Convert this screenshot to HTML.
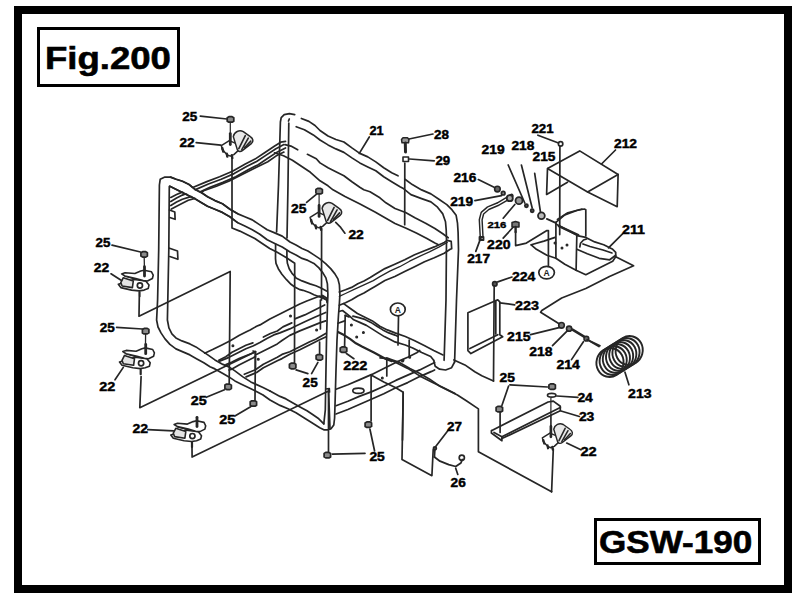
<!DOCTYPE html>
<html><head><meta charset="utf-8">
<style>
html,body{margin:0;padding:0;background:#fff;}
body{width:809px;height:602px;position:relative;overflow:hidden;font-family:"Liberation Sans",sans-serif;}
.frame{position:absolute;left:14px;top:6px;width:762px;height:571px;border:8px solid #000;}
.box{position:absolute;border:3px solid #000;background:#fff;}
.big{position:absolute;font-weight:bold;font-size:31.5px;-webkit-text-stroke:0.6px #000;line-height:1;color:#000;transform-origin:0 0;white-space:nowrap;}
svg{position:absolute;left:0;top:0;}
.dr polyline,.dr polygon,.dr circle,.dr ellipse,.dr path{stroke:#262626;stroke-linecap:round;stroke-linejoin:round;}
.dr polyline{fill:none;}
.lb text{font-family:"Liberation Sans",sans-serif;font-weight:bold;font-size:12.3px;fill:#000;stroke:#000;stroke-width:0.45px;}
.lb text.s{font-size:9.4px;stroke-width:0.35px;}
</style></head><body>
<div class="frame"></div>
<div class="box" style="left:37px;top:27px;width:137px;height:54px;"></div>
<div class="big" style="left:45px;top:43px;transform:scaleX(1.16);">Fig.200</div>
<div class="box" style="left:594px;top:518px;width:161px;height:41px;"></div>
<div class="big" style="left:599px;top:527px;transform:scaleX(1.113);">GSW-190</div>
<svg width="809" height="602" viewBox="0 0 809 602">
<g class="dr" stroke-width="1.7">
<polyline points="263,395 255,390.8 248.8,387.8 240.9,383.9 234.9,380.9 228.9,376.9 222.9,373.4 214.9,368.9 210,366.8 203.8,362.8 196.9,358.9 189.9,354.9 182.9,351.9 175.9,348.9 169.9,344.4 165,338.9 161,332.9 158,327 156.6,320 157.6,300 158.7,250 159.4,185 160.2,179.3 164.9,177.1 170.5,177.1 176.1,179.3 182.4,181.2 189,184.5 195,189.4 201.2,192.5 207.5,196.8 214.9,200.6 222.4,203.7 229.9,209.3 237.3,213.6 244.8,216.8 252.3,219.9 259.8,224.9 267.2,229.8 274.7,232.9 282.2,236.1 290,242 296,245 302,248.5 307.9,251 313.9,254.9 319.9,258.9 325.9,263.9 330.9,268.9 334.9,273.9 337.9,278.9 339.4,284.9 339.9,294.8 339.3,304.7 338.5,315 337,340 336,370 335,405 334.6,418 333.8,425 331,428.8 327.8,429.8 323.8,429.8 319.8,427.8 311.9,422.8 303.9,417.8 296,412.8 288,408.8 280,405.4 270,400 263,395"/>
<polyline points="270,391 263,387.5 255,383.9 250.8,381.9 242.9,376.9 234.9,370.9 228.9,366.9 222.9,364.4 214.9,359.9 207.8,354.9 201.8,350.9 195.9,346.9 189.9,343.9 181.9,340.9 175.9,337.9 171.9,333.9 168.9,327.9 167.4,320 167.8,300 168.8,250 169.3,186.5 169.9,186.2 182.4,192.4 195,198.7 201.2,202.4 207.5,206.2 214.9,209.3 222.4,212.4 229.9,216.8 237.3,222.4 244.8,226.1 252.3,229.8 259.8,234.2 267.2,239.8 274.7,243.5 282.2,247 290,252 296,254.9 302,258.4 307.9,260.4 313.9,263.4 318.9,267.9 322.9,272.9 325.9,277.9 327.4,283.9 327.9,294.8 327.5,304.7 326.5,340 325.8,380 325.3,410 323.8,423.8"/>
<polyline points="270,391 280,396.4 286,398.9 293,402.9 300,406.9 307,410.8 313,414.8 318.8,418.8 321.8,421.8 323.8,423.8"/>
<polyline points="294.7,114.7 289.4,113.7 284.2,114.7 281.2,117.7 280.4,122 278.5,185 276.6,232"/>
<polyline points="275.6,244 275.5,258.7 276,263.3 278.3,268.7 281.9,274.2 286.5,279.7 291,284.3 294.7,287 300,289.7 303,290.3 309.9,292.8 313.9,294.8 320,297 326,299.5"/>
<polyline points="288.5,121 289.3,119"/>
<polyline points="288.8,123 288,185 287,238"/>
<polyline points="286.9,250.5 286.9,258.7 287.4,263.3 289.2,268.7 292,273.3 294.7,276.1 296,277.9 302,280.9 309.9,283.9 315.9,285.8 321,288 326.5,291"/>
<polyline points="301.4,118.5 308.9,121.4 315,125.5 320,130.5 328,136 335.9,139.5 343.9,142 351.9,147.9 359.8,153.4 367.8,156.9 375.8,161.9 383.7,167.8 391.7,172.8 398,175.8"/>
<polyline points="296.2,126.7 304.4,129.7 313.3,134.9 320,140 328,144.9 335.9,148.9 343.9,152.4 351.9,157.9 359.8,162.9 367.8,166.9 375.8,170.8 383.7,176.8 391.7,181.8 400,186.8 403.8,188.8 410.9,194.6 421.6,198.6 430.9,201.9 437.5,207.2 442.8,213.9 445.5,221.8 446.2,229.8 446.5,239.1 446,300 444.1,360.3"/>
<polyline points="405,179.3 412.3,184.6 421.6,189.9 430.9,193.9 438.9,199.2 446.8,204.6 452.1,209.9 456.1,215.2 457.5,223.2 458.1,232.5 458.5,249.7 456.5,300 454.6,362"/>
<polyline points="285,144.6 290.9,146.1 297.7,149.8"/>
<polyline points="307.4,154.3 316.3,158.8 320,162.9 328,167.8 335.9,171.8 343.9,175.8 351.9,181.8 359.8,187.3 363.8,189.8 370,191.8 379.9,197.8 385.9,202.8 395,208.5 405.6,212.5 414.9,217.8 425.6,223.2 434.9,228.5 442.8,233.8 448.2,237.8"/>
<polyline points="274.5,152.8 283.5,155.8 292.4,160.3 301.4,166.3 310.4,172.3 320,180.8 328,185.8 333,189.8 345,196.5 360,204 375,212 395,223.5 405.6,228 416.3,233 426.9,238.5 434.9,243 438,244.5"/>
<polyline points="433.7,360.3 435.2,366.2 439.6,369.2 445.6,370 451.6,367.7 454.6,362"/>
<polyline points="343.6,303.6 350,308.2 357.4,313.5 364.9,317.2 372.4,320.9 379.8,326.2 387.3,329.9 395,332.9 405.3,336.5 414.2,340.5 424.7,345.8 433.7,350.5 443,354.9"/>
<polyline points="453.9,359.9 464.9,364.9 474.8,371.8 481.8,375.8 493.5,381"/>
<polyline points="352.9,316.1 358.9,317.6 364.9,319.4 370.9,322.4 376.9,326.2 382.8,329.9 388.8,332.9 395,335.1 398,336.5"/>
<polyline points="339,311.5 342.5,310.5 350,316.4 353.7,319.8 359.7,322.4 366.4,325.4 372.4,329.1 378.3,332.9 384.3,336.6 390.3,339.6 395,341.9 405.3,345 412.7,348 421.7,352.5 430.7,356.5 433.7,360.3"/>
<polyline points="338,323.2 344.7,320.9"/>
<polyline points="339.3,292 345.5,289.8 351.6,287.4 357.8,283.7 364,280.9 370.2,277.5 375,274.6 384.9,268.6 394.8,264.2 404.7,259.7 414.6,254.8 424.5,250.8 434.3,246.9 444.2,242.4 447.2,240.4 451.2,241.4 451.7,248.8 450.2,249.3 444.2,253.3 434.3,257.7 424.5,261.7 414.6,266.7 404.7,271.6 394.8,276.5 384.9,280.5 375,286.4 370.2,289.2 364,292.9 357.8,296 351.6,299.7 345.5,302.8 339.3,305.3"/>
<polyline points="339.3,296.3 345.5,293.5 354.7,289.2 364,284.9 373.3,280.6 379.9,276.6 389.8,271.1 399.7,266.7 409.6,261.2 419.5,256.3 429.4,251.8 439.3,246.9 447.2,242.4" stroke-width="1.3"/>
<polyline points="204.7,353.2 212.6,349.6 221.4,345.2 230.2,340.8 239,335.6 245.9,332.1 250.1,330 256.6,326.3 260,324.9 269.9,318.9 279.9,313.9 289.8,309 299.8,304 306.8,301 316.6,297.2 319.6,296.1 323,297 325.5,299.5"/>
<polyline points="218.8,360.2 225.8,356.7 232,352.3 239,348.8 245.9,345.3 252.9,342.9"/>
<polyline points="263.4,337 270.4,333.5 277.3,331 282.9,326.9 291.8,322.9"/>
<polyline points="294.8,318.9 304.8,314.9 314.7,310 324.7,305"/>
<polyline points="219.6,361.1 228.5,357.6 232,355.8 239,352.3 245.9,348.8 252.9,346 259.9,342.6 266.9,338.4 273.8,334.9 279.9,332.9 289.8,328.9 294.8,326.4 304.8,321.8 314.7,317.2 325.7,312.5"/>
<polyline points="226,364.5 232,362.1 239,358.6 245.9,355.8 252.9,353 255.4,351.6"/>
<polyline points="256.4,354.4 263.4,350.9 270.4,347.4 277.3,343.9 282,340.5 289.8,335.4 299.8,330.9 309.8,326.9 319.7,322.9 325.7,320.9"/>
<polyline points="229,370 232,369.1 239,364.9 245.9,361.4 252.9,357.9 255.4,356.5"/>
<polyline points="244.3,374.3 255.4,369.8 263.4,364.2 270.4,360.7 277.3,357.2 282,354.4 289.8,351.8 299.8,346.8 309.8,341.8 315.7,339.3 325.7,333.4"/>
<polyline points="246.1,376.9 256.6,372.5 263.4,367.7 270.4,364.2 277.3,360.7 282,358.6 289.8,354.3 299.8,349.8 309.8,344.8 319.7,339.8 325.7,336.9"/>
<polyline points="255.4,351.7 255.4,369.7"/>
<polyline points="253,351 255.4,351.7"/>
<polyline points="336,389.3 347.9,384.8 359.9,379.6 371.9,374.4 383.8,368.4 395.8,362.4 407.7,357.2 416.7,352.7 419.7,350.5"/>
<polyline points="336,405.8 347.9,401.3 359.9,396.1 371.9,391.6 383.8,386.3 395.8,380.4 407.7,375.1 419.7,369.9 431.6,363.9 434.6,362.4"/>
<polyline points="336,414 347.9,409.5 359.9,404.3 371.9,399 383.8,393.8 395.8,387.8 407.7,382.6 419.7,376.6 431.6,371.4 434.6,369.9"/>
<polyline points="338,332.1 344,335.1 350,338.9 355.9,343.3 361.9,346.5 373.9,352.5 385.8,359 391.8,361.2" stroke-width="2.2"/>
<polyline points="386.8,375.9 386.8,357.9 395.8,362.4 407.7,368.4 419.7,375.9 431.6,381.9 443.6,387.8 455,393.5"/>
<polyline points="371.1,421 371.1,375.1 383.8,381.9 395.8,387.8 403.2,392.3 402.5,440"/>
<polyline points="409.2,340 409.2,356.4"/>
<polyline points="380,357.9 389,358.7 399.4,362.4 409.9,368.4 418.9,372.9 429.3,378.9 439.8,386.3 448.8,390.8 457.4,395 466.7,401 478.4,408.9 478.4,451.7 551.6,491.8"/>
<polyline points="467.9,312.8 497.8,299.8 499.8,301.8 499.8,334.7 502.7,336.7 470.9,353.6 467.9,350.6 467.9,312.8"/>
<polyline points="495.8,300.5 495.8,334"/>
<polyline points="497.8,334.7 469.9,348.6"/>
<circle cx="494.8" cy="283.9" r="2.2" fill="#555"/>
<polyline points="494.2,286 493.5,381"/>
<polyline points="497.8,281.9 512,277"/>
<polyline points="499.8,302.8 514.7,304.8"/>
<ellipse cx="546.6" cy="272.6" rx="7.8" ry="6.3" fill="#fff"/>
<ellipse cx="397.8" cy="309.4" rx="7.4" ry="6.4" fill="#fff"/>
<polyline points="398.5,316.4 398,345"/>
<polyline points="615.7,256.8 633.6,265.8 609.5,276.5 585.8,288.5 561.7,298 541.8,310.5 540.6,312.2 561.5,325.3"/>
<circle cx="561.5" cy="325.3" r="2.8" fill="#777" stroke-width="1.6"/>
<circle cx="569.1" cy="328.7" r="2.6" fill="#777" stroke-width="1.6"/>
<polyline points="572.5,329.7 587.4,338.7" stroke-width="2.6"/>
<circle cx="586.4" cy="338.7" r="2.4" fill="#666" stroke-width="1.5"/>
<polyline points="587.4,339.7 600,345.7"/>
<polyline points="530.6,334.7 559,327.7"/>
<polyline points="552.5,345.7 567.5,330.7"/>
<polyline points="571.5,359.6 583.4,341.7"/>
<polyline points="547.5,168.4 579.7,150.9 618.1,174.5 617.2,206.7 587.6,191.9 547.5,168.4 546.6,194.5 567.5,182.3"/>
<polyline points="587.6,191.9 618.1,174.5"/>
<circle cx="560.6" cy="143.9" r="2.2" fill="none"/>
<polyline points="559.9,146.2 559.7,234.6"/>
<polyline points="537.9,135.2 558.5,143"/>
<polyline points="615.5,150 601.5,164"/>
<polyline points="555.9,222.4 555.9,258.3 564.8,264.3 576.1,270.3"/>
<polyline points="576.8,235.9 576.1,270.3"/>
<polyline points="555.9,223.9 577.5,235.5"/>
<polyline points="558.9,226.2 578.3,235.1" stroke-width="2.4"/>
<polyline points="555.9,222.4 564.8,214.9 576.8,210.5 584.3,209 585.8,209.7 585.8,235.9"/>
<polyline points="557.4,219.4 567.8,212.7 582,209"/>
<polyline points="531.2,244.8 536.4,249.3 546.9,255.3 555.9,258.3"/>
<polyline points="531.2,244.8 543.9,241.1 555.1,237.4"/>
<polyline points="578.3,235.9 585.8,237.4 594.7,241.9 603.7,244.8 612.7,249.3 615.7,252.3 615.7,256.8 612.7,261.3 603.7,265.8 594.7,270.3 585.8,274.7 576.1,270.3"/>
<polyline points="576.8,249.3 587.3,253.8 599.2,258.3 609.7,259.8 615.7,255.3"/>
<polyline points="579.8,247 580.5,243.3 583.5,240 586.5,239"/>
<polyline points="583,244 590,246.5 603,250 612,253"/>
<polyline points="622.5,233.8 608.5,247.8"/>
<polyline points="515.6,231.4 515.6,245.6 526.4,243.1 546.9,230.6 548.4,230.6 548.4,265.8"/>
<circle cx="497.4" cy="189.1" r="2.8" fill="#666" stroke-width="1.6"/>
<circle cx="503.2" cy="193.2" r="1.8" fill="#888"/>
<polyline points="478.3,179.6 494.6,187.4"/>
<polyline points="474.9,200.7 501.5,195.7"/>
<polyline points="481.6,236.4 480.7,219.8 482.4,213.2 488.2,208.2 498.2,204 506.5,199.1 511.5,195.7" stroke-width="4.2"/>
<polyline points="481.6,236.4 480.7,219.8 482.4,213.2 488.2,208.2 498.2,204 506.5,199.1 511.5,195.7" stroke-width="1.3" style="stroke:#fff"/>
<polyline points="479.5,237 483.5,237 483.5,240 479.5,240 479.5,237" stroke-width="1.8"/>
<circle cx="509.8" cy="198.2" r="3" fill="#aaa" stroke-width="1.8"/>
<circle cx="519" cy="200.7" r="3.5" fill="#999" stroke-width="1.8"/>
<polyline points="503.2,218.2 514.8,204.5"/>
<circle cx="526.4" cy="205.7" r="1.6" fill="#555"/>
<circle cx="532.2" cy="210.7" r="1.6" fill="#555"/>
<polyline points="508.2,165 524.8,203"/>
<polyline points="521.4,165 532.2,208"/>
<polyline points="534.7,173.3 540.5,212.3"/>
<circle cx="541.4" cy="215.7" r="3.4" fill="#bbb" stroke-width="1.8"/>
<polyline points="546.8,218.9 555.7,222.9"/>
<polygon points="512,222.5 515.5,221.5 519,222.5 519,227 512,227" fill="#777" stroke-width="1.5"/>
<polyline points="515.6,227 515.6,232" stroke-width="2.4"/>
<polyline points="503.2,238.1 513.1,227.3"/>
<polyline points="475.8,251.4 480.7,238.1"/>
<polyline points="170.8,197.4 176.6,194.5 181,192.6 193.9,187 206.8,181.6 219.6,176.8 232.5,171.2 245.3,163.9 255,159.1 264.6,152.7 274.3,146.2 280.7,142.2 285.5,141.4"/>
<polyline points="170.8,201.5 176.6,198 182.4,195.1 195.5,189.6 208.4,184 221.2,179.2 234.1,173.6 247,166.3 256.6,161.5 266.2,155.1 275.9,148.7 283.9,144.6"/>
<polyline points="170.8,205.6 176.6,202.1 182.4,199.2 190,196.9 197.1,193.2 210,187.2 222.9,182.4 235.7,176.8 248.6,169.5 258.2,164.7 267.8,158.3 277.5,151.9 285.5,147.9"/>
<polyline points="171.4,209.1 176.6,206.2 182.4,203.3 188.3,200.3 194.1,198.6 203.6,190.8 216.4,186.3 229.3,181 242.1,174.6 255,168.1 267.8,161.7 275.9,156.1 283.9,152.1"/>
<polygon points="170.5,178.2 176.1,180.4 182.4,182.3 189,185.6 195,190.5 201.2,193.6 207.5,197.9 214.9,201.7 222.4,204.8 229.9,210.4 237.3,214.7 237.3,221.3 229.9,215.7 222.4,211.3 214.9,208.2 207.5,205.1 201.2,201.3 195,197.6 182.4,191.3 169.9,185.1" fill="#fff" style="stroke:none"/>
<polyline points="170.5,177.1 176.1,179.3 182.4,181.2 189,184.5 195,189.4 201.2,192.5 207.5,196.8 214.9,200.6 222.4,203.7 229.9,209.3 237.3,213.6"/>
<polyline points="169.9,186.2 182.4,192.4 195,198.7 201.2,202.4 207.5,206.2 214.9,209.3 222.4,212.4 229.9,216.8 237.3,222.4"/>
<polyline points="169.5,210 174.8,212 175.1,219.3 169.8,217.5"/>
<polyline points="169.5,248.2 177.5,251 177.9,259.3 169.8,256.5"/>
<g transform="translate(230.3 145.6) scale(1.0)" stroke-width="1.5"><path d="M-9,0 L-1,-5 L6,-2 L9.5,3.5 L3.5,9 L0,10.5 L-3.5,9 L-8,4 Z" fill="#fff"/><path d="M3,-9 C4,-14 9,-16 13,-14 L20,-9 C23,-7 23.5,-4 21,-2 L12,5 C10,6.5 8,6 7,4 Z" fill="#e8e8e8"/><path d="M8.5,3 L15,-10 M11.5,4 L18,-7.5 M14.5,2 L20.5,-4.5" fill="none" stroke-width="1.6"/><path d="M-8,2.5 L-7,6 M-3.5,8 L-3,11 M1.5,9.5 L2,12.5" fill="none" stroke-width="2.4"/><path d="M0,-24 L0,-12" fill="none" stroke-width="1.2"/><path d="M0,-12 L0,-1" fill="none" stroke-width="2.8"/></g>
<g transform="translate(319.1 217.4) scale(1.0)" stroke-width="1.5"><path d="M-9,0 L-1,-5 L6,-2 L9.5,3.5 L3.5,9 L0,10.5 L-3.5,9 L-8,4 Z" fill="#fff"/><path d="M3,-9 C4,-14 9,-16 13,-14 L20,-9 C23,-7 23.5,-4 21,-2 L12,5 C10,6.5 8,6 7,4 Z" fill="#e8e8e8"/><path d="M8.5,3 L15,-10 M11.5,4 L18,-7.5 M14.5,2 L20.5,-4.5" fill="none" stroke-width="1.6"/><path d="M-8,2.5 L-7,6 M-3.5,8 L-3,11 M1.5,9.5 L2,12.5" fill="none" stroke-width="2.4"/><path d="M0,-24 L0,-12" fill="none" stroke-width="1.2"/><path d="M0,-12 L0,-1" fill="none" stroke-width="2.8"/></g>
<g transform="translate(550.9 437.8) scale(0.95)" stroke-width="1.5"><path d="M-9,0 L-1,-5 L6,-2 L9.5,3.5 L3.5,9 L0,10.5 L-3.5,9 L-8,4 Z" fill="#fff"/><path d="M3,-9 C4,-14 9,-16 13,-14 L20,-9 C23,-7 23.5,-4 21,-2 L12,5 C10,6.5 8,6 7,4 Z" fill="#e8e8e8"/><path d="M8.5,3 L15,-10 M11.5,4 L18,-7.5 M14.5,2 L20.5,-4.5" fill="none" stroke-width="1.6"/><path d="M-8,2.5 L-7,6 M-3.5,8 L-3,11 M1.5,9.5 L2,12.5" fill="none" stroke-width="2.4"/><path d="M0,-24 L0,-12" fill="none" stroke-width="1.2"/><path d="M0,-12 L0,-1" fill="none" stroke-width="2.8"/></g>
<polygon points="118.3,284.3 120.8,287.6 131.6,290.1 139.1,290.9 144.1,290.1 148.2,288.5 149,285.1 145.7,281 133.9,279.5" fill="#fff" stroke-width="1.6"/>
<polygon points="123.3,277.7 133.3,281 132.4,287.6 122.1,286 120.8,282.6" fill="#e4e4e4" stroke-width="1.6"/>
<polyline points="124.9,276.2 135.9,279.3" stroke-width="1.3"/>
<polygon points="121.6,273.9 125,272.7 134.9,273.5 140.7,271 144.1,270.2 151.5,271.8 153.2,275.2 152.4,278.5 147.4,281 143.2,280.6 135.8,278.5 125,276" fill="#fff" stroke-width="1.6"/>
<circle cx="139.9" cy="285.5" r="2.6" fill="#fff"/>
<polyline points="144.5,266.7 144.5,276" stroke-width="2.8"/>
<polyline points="139.5,292 139.5,296.5" stroke-width="2.2"/>
<polygon points="119.5,362 122,365.3 132.8,367.8 140.3,368.6 145.3,367.8 149.4,366.2 150.2,362.8 146.9,358.7 135.1,357.2" fill="#fff" stroke-width="1.6"/>
<polygon points="124.5,355.4 134.5,358.7 133.6,365.3 123.3,363.7 122,360.3" fill="#e4e4e4" stroke-width="1.6"/>
<polyline points="126.1,353.9 137.1,357" stroke-width="1.3"/>
<polygon points="122.8,351.6 126.2,350.4 136.1,351.2 141.9,348.7 145.3,347.9 152.7,349.5 154.4,352.9 153.6,356.2 148.6,358.7 144.4,358.3 137,356.2 126.2,353.7" fill="#fff" stroke-width="1.6"/>
<circle cx="141.1" cy="363.2" r="2.6" fill="#fff"/>
<polyline points="145.7,344.4 145.7,353.7" stroke-width="2.8"/>
<polyline points="140.7,369.7 140.7,374.2" stroke-width="2.2"/>
<polygon points="170.8,434.9 173.3,438.2 184.1,440.7 191.6,441.5 196.6,440.7 200.7,439.1 201.5,435.7 198.2,431.6 186.4,430.1" fill="#fff" stroke-width="1.6"/>
<polygon points="175.8,428.3 185.8,431.6 184.9,438.2 174.6,436.6 173.3,433.2" fill="#e4e4e4" stroke-width="1.6"/>
<polyline points="177.4,426.8 188.4,429.9" stroke-width="1.3"/>
<polygon points="174.1,424.5 177.5,423.3 187.4,424.1 193.2,421.6 196.6,420.8 204,422.4 205.7,425.8 204.9,429.1 199.9,431.6 195.7,431.2 188.3,429.1 177.5,426.6" fill="#fff" stroke-width="1.6"/>
<circle cx="192.4" cy="436.1" r="2.6" fill="#fff"/>
<polyline points="197,417.3 197,426.6" stroke-width="2.8"/>
<polyline points="192,442.6 192,447.1" stroke-width="2.2"/>
<polygon points="227.2,117.7 228.9,116.7 232.1,116.7 233.8,117.7 233.8,121.2 232.1,122.2 228.9,122.2 227.2,121.2" fill="#8a8a8a"/>
<polygon points="315.9,189.4 317.5,188.4 320.7,188.4 322.4,189.4 322.4,192.9 320.7,193.9 317.5,193.9 315.9,192.9" fill="#8a8a8a"/>
<polygon points="140.9,252.7 142.6,251.7 145.8,251.7 147.4,252.7 147.4,256.1 145.8,257.1 142.6,257.1 140.9,256.1" fill="#8a8a8a"/>
<polygon points="142.4,329.4 144.1,328.4 147.3,328.4 148.9,329.4 148.9,332.9 147.3,333.9 144.1,333.9 142.4,332.9" fill="#8a8a8a"/>
<polygon points="224.9,385.1 226.6,384.1 229.8,384.1 231.4,385.1 231.4,388.6 229.8,389.6 226.6,389.6 224.9,388.6" fill="#8a8a8a"/>
<polygon points="250.2,401.8 251.8,400.8 255,400.8 256.6,401.8 256.6,405.2 255,406.2 251.8,406.2 250.2,405.2" fill="#8a8a8a"/>
<polygon points="289.4,364.2 291.1,363.2 294.3,363.2 295.9,364.2 295.9,367.8 294.3,368.8 291.1,368.8 289.4,367.8" fill="#8a8a8a"/>
<polygon points="316.1,355.6 317.8,354.6 321,354.6 322.6,355.6 322.6,359.1 321,360.1 317.8,360.1 316.1,359.1" fill="#8a8a8a"/>
<polygon points="365.1,422.9 366.8,421.9 370,421.9 371.6,422.9 371.6,426.4 370,427.4 366.8,427.4 365.1,426.4" fill="#8a8a8a"/>
<polygon points="324.1,453.4 325.7,452.4 328.9,452.4 330.6,453.4 330.6,456.9 328.9,457.9 325.7,457.9 324.1,456.9" fill="#8a8a8a"/>
<polygon points="548.9,384.9 550.5,383.9 553.7,383.9 555.4,384.9 555.4,388.4 553.7,389.4 550.5,389.4 548.9,388.4" fill="#8a8a8a"/>
<polygon points="496.1,407.4 497.7,406.4 500.9,406.4 502.6,407.4 502.6,410.9 500.9,411.9 497.7,411.9 496.1,410.9" fill="#8a8a8a"/>
<polygon points="340.2,347.9 341.9,346.9 345.1,346.9 346.8,347.9 346.8,351.4 345.1,352.4 341.9,352.4 340.2,351.4" fill="#8a8a8a"/>
<polyline points="200.3,116.1 227,119"/>
<polyline points="306.6,202.4 316.6,194.1"/>
<polyline points="112,245.1 140.5,252"/>
<polyline points="116.6,327.4 142.5,329"/>
<polyline points="206.3,397.3 224.5,389.8"/>
<polyline points="234.9,416 250.6,406.7"/>
<polyline points="296.1,369.9 307.9,373.6"/>
<polyline points="317.9,362.4 311.6,373.6"/>
<polyline points="332.3,454.1 365,453.3"/>
<polyline points="369.9,429 374.6,451"/>
<polyline points="509.9,384.8 547.5,387"/>
<polyline points="508.6,386 501.9,405.5"/>
<polyline points="346.4,353.5 353.9,358.7"/>
<polyline points="196.2,142.6 220.8,145.2"/>
<polyline points="335.7,222.4 340.7,227.4 344.9,233.2"/>
<polyline points="111,273.8 121.5,280.5"/>
<polyline points="115,379.8 123.3,367.4"/>
<polyline points="147.8,429.7 173.4,430.9"/>
<polyline points="566.7,443.1 580.9,449.8"/>
<polyline points="232,156 232,228 239.8,231.1 247.3,234.8 254.8,238.5 262.2,243.5 269.7,248.5 277.2,252.2 286.5,257.8 294.7,263.3 294.5,362.5"/>
<polyline points="321.6,228 321.5,300"/>
<polyline points="320.4,300 320.4,329"/>
<polyline points="319.6,342 319.6,354"/>
<polyline points="139.3,297.6 139,316.2 230.2,271.5 229.2,383.5"/>
<polyline points="141.1,376.5 139.8,407.7 255.4,351.7 255,400"/>
<polyline points="192,447.4 192.1,457.1 328.5,391 328.5,452"/>
<polyline points="553.3,449 551.6,491.8"/>
<polyline points="330,429 328.5,389"/>
<polyline points="345.2,315.4 344.6,346.5"/>
<polyline points="345.2,315.4 349,317"/>
<polyline points="491.4,430.7 548.1,402 553.3,401.1 560.3,406.3 560.3,410.7 501.9,438.6 501.9,440.7 491.4,433 491.4,430.7"/>
<polyline points="494,432.5 501.9,436.8 501.9,438.6"/>
<polyline points="501.9,436.8 560.3,407.5"/>
<polyline points="500.1,412.4 500.1,432.5"/>
<ellipse cx="551.7" cy="395.2" rx="4.2" ry="1.9" fill="#fff"/>
<polyline points="556.9,396 577.9,397.4"/>
<polyline points="561,411 579.4,416.5"/>
<polyline points="550.9,398 550.9,426" stroke-width="1.2"/>
<polyline points="447.8,430.7 435.7,446.5"/>
<circle cx="434.9" cy="448.3" r="1.5" fill="#555"/>
<polyline points="434.4,457.1 440,461.2 448.7,464.7 455.7,466.5 460.9,463 462.3,459.5" stroke-width="1.8"/>
<circle cx="461.8" cy="457.8" r="2.6" fill="none"/>
<polyline points="455.7,468.2 457.8,474.5"/>
<polyline points="434.9,449.8 434.4,457.1"/>
<polyline points="403.2,392.3 402,459.6 431.9,475.7 433.2,449.6"/>
<polygon points="401.5,139.5 403,137.8 407.5,137.8 409,139.5 408.5,142.8 402,142.8" fill="#999" stroke-width="1.5"/>
<polyline points="405.3,143 405.5,152" stroke-width="3"/>
<polyline points="403,157 408.5,157 408.5,161.5 403,161.5 403,157" stroke-width="1.6"/>
<polyline points="409,139 433,134"/>
<polyline points="409.6,159 434.3,160.8"/>
<polyline points="404.8,163 404.7,224.7"/>
<ellipse cx="610" cy="362.5" rx="13.5" ry="14.5" transform="rotate(15 610 362.5)" fill="none" stroke-width="1.9"/>
<ellipse cx="613.2" cy="360.5" rx="13.5" ry="14.5" transform="rotate(15 613.2 360.5)" fill="none" stroke-width="1.9"/>
<ellipse cx="616.4" cy="358.5" rx="13.5" ry="14.5" transform="rotate(15 616.4 358.5)" fill="none" stroke-width="1.9"/>
<ellipse cx="619.6" cy="356.5" rx="13.5" ry="14.5" transform="rotate(15 619.6 356.5)" fill="none" stroke-width="1.9"/>
<ellipse cx="622.8" cy="354.5" rx="13.5" ry="14.5" transform="rotate(15 622.8 354.5)" fill="none" stroke-width="1.9"/>
<ellipse cx="626" cy="352.5" rx="13.5" ry="14.5" transform="rotate(15 626 352.5)" fill="none" stroke-width="1.9"/>
<ellipse cx="629.2" cy="350.5" rx="13.5" ry="14.5" transform="rotate(15 629.2 350.5)" fill="none" stroke-width="1.9"/>
<polyline points="587.4,339.7 599,346.5" stroke-width="1.8"/>
<polyline points="624.9,372 628.9,384.8"/>
<polyline points="359.3,153.4 369.3,137"/>
<text x="546.6" y="276.3" font-size="8.5" font-weight="bold" text-anchor="middle" font-family="Liberation Sans" fill="#222" stroke="none">A</text>
<text x="397.8" y="312.8" font-size="8.5" font-weight="bold" text-anchor="middle" font-family="Liberation Sans" fill="#222" stroke="none">A</text>
<ellipse cx="358.4" cy="390.8" rx="5.6" ry="2.6" fill="#fff"/>
<polyline points="144.2,257.5 144.4,267" stroke-width="1.3"/>
<polyline points="145.6,334.3 145.5,344" stroke-width="1.3"/>
<circle cx="290.5" cy="315.9" r="0.9" fill="#333" stroke-width="1.2"/>
<circle cx="232.9" cy="345.8" r="0.9" fill="#333" stroke-width="1.2"/>
<circle cx="258.3" cy="359.2" r="0.9" fill="#333" stroke-width="1.2"/>
<circle cx="316.6" cy="330.1" r="0.9" fill="#333" stroke-width="1.2"/>
<circle cx="351.4" cy="325.1" r="0.9" fill="#333" stroke-width="1.2"/>
<circle cx="363.4" cy="332.6" r="0.9" fill="#333" stroke-width="1.2"/>
<circle cx="356.7" cy="337.1" r="0.9" fill="#333" stroke-width="1.2"/>
<circle cx="403" cy="360.3" r="0.9" fill="#333" stroke-width="1.2"/>
<circle cx="409.7" cy="357.3" r="0.9" fill="#333" stroke-width="1.2"/>
<circle cx="402.5" cy="360.9" r="0.9" fill="#333" stroke-width="1.2"/>
<circle cx="382.3" cy="378.1" r="0.9" fill="#333" stroke-width="1.2"/>
<circle cx="555" cy="243" r="0.9" fill="#333" stroke-width="1.2"/>
<circle cx="562" cy="248" r="0.9" fill="#333" stroke-width="1.2"/>
<circle cx="567" cy="245" r="0.9" fill="#333" stroke-width="1.2"/>
<polyline points="322.6,295.5 326.5,298 327,302.4"/>
<polyline points="325.8,389 329.3,388.5 329.5,392"/>
</g>
<g class="lb">
<text x="182.3" y="120.8" textLength="15" lengthAdjust="spacingAndGlyphs">25</text>
<text x="179.4" y="146.7" textLength="15.1" lengthAdjust="spacingAndGlyphs">22</text>
<text x="95.5" y="247" textLength="14.8" lengthAdjust="spacingAndGlyphs">25</text>
<text x="93.7" y="271.5" textLength="15.4" lengthAdjust="spacingAndGlyphs">22</text>
<text x="99.7" y="332" textLength="15" lengthAdjust="spacingAndGlyphs">25</text>
<text x="291.1" y="213.4" textLength="15.4" lengthAdjust="spacingAndGlyphs">25</text>
<text x="348.4" y="238.7" textLength="15.4" lengthAdjust="spacingAndGlyphs">22</text>
<text x="302.6" y="386.7" textLength="15.1" lengthAdjust="spacingAndGlyphs">25</text>
<text x="369.4" y="134.9" textLength="14.2" lengthAdjust="spacingAndGlyphs">21</text>
<text x="434.1" y="138.6" textLength="14.9" lengthAdjust="spacingAndGlyphs">28</text>
<text x="435.4" y="165.3" textLength="14.7" lengthAdjust="spacingAndGlyphs">29</text>
<text x="531.5" y="132.9" textLength="22.1" lengthAdjust="spacingAndGlyphs">221</text>
<text x="614" y="147.9" textLength="23" lengthAdjust="spacingAndGlyphs">212</text>
<text x="481.6" y="154.1" textLength="23" lengthAdjust="spacingAndGlyphs">219</text>
<text x="511.4" y="149.9" textLength="22.9" lengthAdjust="spacingAndGlyphs">218</text>
<text x="532.5" y="161.1" textLength="22.9" lengthAdjust="spacingAndGlyphs">215</text>
<text x="453.4" y="182.2" textLength="22.9" lengthAdjust="spacingAndGlyphs">216</text>
<text x="450.2" y="205.9" textLength="22.9" lengthAdjust="spacingAndGlyphs">219</text>
<text x="487.1" y="248.6" textLength="23.4" lengthAdjust="spacingAndGlyphs">220</text>
<text x="467.2" y="263" textLength="22.9" lengthAdjust="spacingAndGlyphs">217</text>
<text x="622.1" y="234.4" textLength="22.9" lengthAdjust="spacingAndGlyphs">211</text>
<text x="512" y="281" textLength="23.4" lengthAdjust="spacingAndGlyphs">224</text>
<text x="515" y="310.1" textLength="23.9" lengthAdjust="spacingAndGlyphs">223</text>
<text x="507.1" y="340.8" textLength="23.4" lengthAdjust="spacingAndGlyphs">215</text>
<text x="529.2" y="356" textLength="23.2" lengthAdjust="spacingAndGlyphs">218</text>
<text x="556.5" y="368.6" textLength="23.4" lengthAdjust="spacingAndGlyphs">214</text>
<text x="628.1" y="397.7" textLength="23.4" lengthAdjust="spacingAndGlyphs">213</text>
<text x="499.6" y="382.3" textLength="15.4" lengthAdjust="spacingAndGlyphs">25</text>
<text x="577.4" y="402.2" textLength="15.4" lengthAdjust="spacingAndGlyphs">24</text>
<text x="578.9" y="420.9" textLength="15.4" lengthAdjust="spacingAndGlyphs">23</text>
<text x="580.5" y="455.8" textLength="16.2" lengthAdjust="spacingAndGlyphs">22</text>
<text x="99.2" y="391.1" textLength="16" lengthAdjust="spacingAndGlyphs">22</text>
<text x="190.7" y="404.8" textLength="15.9" lengthAdjust="spacingAndGlyphs">25</text>
<text x="219.2" y="423.9" textLength="15.9" lengthAdjust="spacingAndGlyphs">25</text>
<text x="132.6" y="432.9" textLength="15.5" lengthAdjust="spacingAndGlyphs">22</text>
<text x="343.2" y="370.4" textLength="24.2" lengthAdjust="spacingAndGlyphs">222</text>
<text x="369.4" y="461.3" textLength="15.4" lengthAdjust="spacingAndGlyphs">25</text>
<text x="447.1" y="430.9" textLength="14.9" lengthAdjust="spacingAndGlyphs">27</text>
<text x="450.6" y="486.5" textLength="15.2" lengthAdjust="spacingAndGlyphs">26</text>
<text x="487.4" y="227.9" class="s" textLength="19" lengthAdjust="spacingAndGlyphs">216</text>
</g>
</svg>
</body></html>
